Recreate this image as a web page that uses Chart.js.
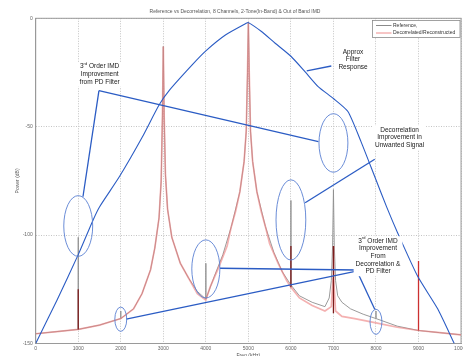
<!DOCTYPE html>
<html>
<head>
<meta charset="utf-8">
<script src="https://cdn.jsdelivr.net/npm/chart.js@4.4.1/dist/chart.umd.min.js"></script>
<style>
  html, body { margin: 0; padding: 0; background: #fff; overflow: hidden; width: 463px; height: 356px; }
  #wrap { width: 470px; height: 360px; position: relative; }
</style>
</head>
<body>
<div id="wrap"><canvas id="chart"></canvas></div>
<script>
// axis ticks
const xTicks = [0, 1000, 2000, 3000, 4000, 5000, 6000, 7000, 8000, 9000, 10000];
const yTicks = [-150, -100, -50, 0];

// Reference spectrum (gray)
const refFreq = [0, 500, 999, 1000, 1001, 1500, 1999, 2000, 2001, 2300, 2500, 2700, 2800, 2900, 2950, 2980, 3000, 3020, 3050, 3100, 3200, 3400, 3600, 3800, 3999, 4000, 4001, 4200, 4400, 4600, 4800, 4900, 4950, 4980, 5000, 5020, 5050, 5100, 5200, 5400, 5600, 5800, 5999, 6000, 6001, 6200, 6500, 6800, 6900, 6950, 6980, 7000, 7020, 7050, 7100, 7200, 7400, 7700, 7999, 8000, 8001, 8500, 9000, 9500, 10000];
const refPower = [-145.5, -144.5, -143.5, -101, -143.5, -141.5, -138.5, -135, -138.5, -134, -127, -116, -106, -92, -75, -45, -13, -45, -72, -88, -101, -113, -120, -126, -129.5, -113, -129.5, -119, -109, -96, -80, -66, -52, -25, -2, -25, -52, -66, -80, -96, -108, -117, -123, -84, -123, -128, -131, -133, -129, -121, -105, -79, -105, -121, -128, -131, -134, -136.5, -138.5, -135, -138.5, -142, -144, -145, -146];

// Decorrelated / reconstructed spectrum (pink)
const decFreq = [0, 500, 1000, 1500, 2000, 2300, 2500, 2700, 2800, 2900, 2950, 2980, 3000, 3020, 3050, 3100, 3200, 3400, 3600, 3800, 4000, 4100, 4300, 4500, 4600, 4700, 4800, 4900, 4950, 4980, 5000, 5020, 5050, 5100, 5200, 5300, 5400, 5500, 5700, 5900, 6000, 6200, 6500, 6800, 6950, 6990, 7000, 7010, 7050, 7200, 7500, 8000, 8500, 9000, 9500, 10000];
const decPower = [-145.5, -144.5, -143.5, -141.5, -138.5, -134, -127, -116, -106, -92, -75, -45, -13, -45, -72, -88, -101, -113, -120, -127, -130, -124, -115, -105, -96, -89, -80, -66, -52, -25, -2, -25, -52, -66, -80, -89, -96, -104, -113, -121, -124, -129, -132.5, -135, -133, -120, -105, -120, -135, -137.5, -138.5, -140.5, -142.5, -144, -145, -146];

// dark overlapping tone spikes
const darkSpikeFreq = [1000, 6000, 7000];
const darkSpikeTop = [-125, -105, -105];
const darkSpikeBase = [-143.5, -124, -136];
const redSpikeFreq = [9000];
const redSpikeTop = [-112];
const redSpikeBase = [-144];

// approx filter response (blue)
const filterFreq = [0, 500, 1000, 1350, 1500, 1970, 2500, 2900, 3150, 3700, 4000, 4460, 4950, 5000, 5300, 5630, 6000, 6330, 6640, 7000, 7340, 7650, 7970, 8250, 8510, 8980, 9450, 9840];
const filterPower = [-150, -130, -109, -93, -87, -73, -55, -40, -33, -21, -15, -7.7, -2.3, -2, -6, -11.5, -17.5, -24.6, -31.5, -37, -43, -57, -73, -87, -99, -119, -134, -150];

// annotation ellipses (center and half sizes in data units)
const ellipseFreq = [1000, 2000, 4000, 6000, 7000, 8000];
const ellipsePower = [-95.8, -138.8, -115.6, -93, -57.5, -140];
const ellipseHalfFreq = [340, 140, 330, 350, 340, 140];
const ellipseHalfPower = [14, 5.6, 13.4, 18.5, 13.5, 5.8];

// annotation notes
const noteText = [
  ["3rd Order IMD", "Improvement", "from PD Filter"],
  ["Approx", "Filter", "Response"],
  ["Decorrelation", "Improvement in", "Unwanted Signal"],
  ["3rd Order IMD", "Improvement", "From", "Decorrelation &", "PD Filter"]
];
const noteFreq = [1503, 7460, 8555, 8048];
const notePower = [-22.3, -15.5, -51.5, -102.6];

// connector lines
const linkFromFreq = [1487, 1487, 6950, 7971, 7541, 7541, 7541];
const linkFromPower = [-33.4, -33.4, -22, -65, -116.1, -116.6, -116.1];
const linkToFreq = [1111, 6646, 6372, 6335, 4332, 2127, 7971];
const linkToPower = [-82.3, -56.9, -24.2, -85.1, -115.3, -138.8, -134.2];

const legendLabels = ["Reference,", "Decorrelated/Reconstructed"];

const pts = (xs, ys) => xs.map((x, i) => ({ x: x, y: ys[i] }));
const spikes = (xs, tops, bases) => {
  const out = [];
  xs.forEach((x, i) => {
    out.push({ x: x, y: bases[i] }, { x: x, y: tops[i] }, { x: x, y: null });
  });
  return out;
};

const FONT = "'Liberation Sans', Arial, sans-serif";
const BLUE = "#2b5cc4";
const PINK = "rgba(236,125,125,0.6)";

function drawNoteLine(ctx, line, cx, y) {
  if (line.startsWith("3rd")) {
    const rest = " " + line.slice(4);
    ctx.font = "6.5px " + FONT;
    const w3 = ctx.measureText("3").width;
    const wr = ctx.measureText(rest).width;
    ctx.font = "4px " + FONT;
    const wsup = ctx.measureText("rd").width;
    let x = cx - (w3 + wsup + wr) / 2;
    ctx.textAlign = "left";
    ctx.font = "6.5px " + FONT;
    ctx.fillText("3", x, y);
    x += w3;
    ctx.font = "4px " + FONT;
    ctx.fillText("rd", x, y - 2.5);
    x += wsup;
    ctx.font = "6.5px " + FONT;
    ctx.fillText(rest, x, y);
  } else {
    ctx.font = "6.5px " + FONT;
    ctx.textAlign = "center";
    ctx.fillText(line, cx, y);
  }
}

const annotations = {
  id: "annotations",
  beforeDatasetsDraw(chart) {
    const { ctx, chartArea: a } = chart;
    ctx.save();
    ctx.strokeStyle = "#9a9a9a";
    ctx.lineWidth = 1;
    ctx.strokeRect(a.left, a.top, a.right - a.left, a.bottom - a.top);
    ctx.restore();
  },
  afterDatasetsDraw(chart) {
    const { ctx, scales: { x, y } } = chart;
    ctx.save();
    // connectors
    ctx.strokeStyle = BLUE;
    ctx.lineWidth = 1.3;
    linkFromFreq.forEach((f, i) => {
      ctx.beginPath();
      ctx.moveTo(x.getPixelForValue(f), y.getPixelForValue(linkFromPower[i]));
      ctx.lineTo(x.getPixelForValue(linkToFreq[i]), y.getPixelForValue(linkToPower[i]));
      ctx.stroke();
    });
    // ellipses
    ctx.strokeStyle = "#5a80d2";
    ctx.lineWidth = 0.9;
    ellipseFreq.forEach((f, i) => {
      const cx = x.getPixelForValue(f);
      const cy = y.getPixelForValue(ellipsePower[i]);
      const rx = Math.abs(x.getPixelForValue(f + ellipseHalfFreq[i]) - cx);
      const ry = Math.abs(y.getPixelForValue(ellipsePower[i] + ellipseHalfPower[i]) - cy);
      ctx.beginPath();
      ctx.ellipse(cx, cy, rx, ry, 0, 0, Math.PI * 2);
      ctx.stroke();
    });
    // notes
    ctx.textBaseline = "middle";
    noteText.forEach((lines, i) => {
      const cx = x.getPixelForValue(noteFreq[i]);
      const y0 = y.getPixelForValue(notePower[i]);
      ctx.font = "6.5px " + FONT;
      const w = Math.max(...lines.map(l => ctx.measureText(l).width)) + 4;
      ctx.fillStyle = "#fff";
      ctx.fillRect(cx - w / 2, y0 - 4.5, w, lines.length * 7.7 + 1.5);
      ctx.fillStyle = "#1a1a1a";
      lines.forEach((l, k) => drawNoteLine(ctx, l, cx, y0 + k * 7.7));
    });
    // legend box
    const lx = 372.5, ly = 20.5, lw = 87.5, lh = 17;
    ctx.fillStyle = "#fff";
    ctx.fillRect(lx, ly, lw, lh);
    ctx.strokeStyle = "#8a8a8a";
    ctx.lineWidth = 0.8;
    ctx.strokeRect(lx, ly, lw, lh);
    const colors = ["#8a8a8a", "#ee8c8c"];
    legendLabels.forEach((t, k) => {
      const yy = ly + 5 + k * 7.5;
      ctx.strokeStyle = colors[k];
      ctx.lineWidth = 1;
      ctx.beginPath();
      ctx.moveTo(lx + 3.5, yy);
      ctx.lineTo(lx + 19, yy);
      ctx.stroke();
      ctx.fillStyle = "#333";
      ctx.font = "5px " + FONT;
      ctx.textAlign = "left";
      ctx.fillText(t, lx + 20.5, yy);
    });
    ctx.restore();
  }
};

const ctx = document.getElementById("chart").getContext("2d");
new Chart(ctx, {
  type: "line",
  data: {
    datasets: [
      {
        label: legendLabels[0],
        data: pts(refFreq, refPower),
        borderColor: "#8f8f8f",
        borderWidth: 0.9,
        pointRadius: 0,
        tension: 0,
        order: 4
      },
      {
        label: legendLabels[1],
        data: pts(decFreq, decPower),
        borderColor: PINK,
        borderWidth: 1.7,
        pointRadius: 0,
        tension: 0,
        order: 3
      },
      {
        label: "spikes",
        data: spikes(darkSpikeFreq, darkSpikeTop, darkSpikeBase),
        borderColor: "#7d1c1c",
        borderWidth: 1.3,
        pointRadius: 0,
        spanGaps: false,
        order: 2
      },
      {
        label: "spikes2",
        data: spikes(redSpikeFreq, redSpikeTop, redSpikeBase),
        borderColor: "#cc3030",
        borderWidth: 1.3,
        pointRadius: 0,
        spanGaps: false,
        order: 2
      },
      {
        label: "Approx Filter Response",
        data: pts(filterFreq, filterPower),
        borderColor: BLUE,
        borderWidth: 1.1,
        pointRadius: 0,
        tension: 0.2,
        order: 1
      }
    ]
  },
  options: {
    responsive: true,
    maintainAspectRatio: false,
    animation: false,
    layout: { padding: 0 },
    plugins: {
      legend: { display: false },
      tooltip: { enabled: false },
      title: {
        display: true,
        text: "Reference vs Decorrelation, 8 Channels, 2-Tone(In-Band) & Out of Band IMD",
        color: "#555",
        font: { family: FONT, size: 5, weight: "normal" },
        padding: { top: 8.5, bottom: 3.8 }
      }
    },
    scales: {
      x: {
        type: "linear",
        min: 0,
        max: 10000,
        afterBuildTicks: s => { s.ticks = xTicks.map(v => ({ value: v })); },
        afterFit: s => { s.height = 16.5; },
        ticks: { color: "#666", font: { family: FONT, size: 5 }, padding: 2, maxRotation: 0, autoSkip: false, callback: v => String(v) },
        grid: { color: "#c4c4c4", lineWidth: 1, drawTicks: false },
        border: { color: "#9a9a9a", dash: [1, 1.5] },
        title: { display: true, text: "Freq (kHz)", color: "#555", font: { family: FONT, size: 5 }, padding: { top: 0, bottom: 1 } }
      },
      y: {
        min: -150,
        max: 0,
        afterBuildTicks: s => { s.ticks = yTicks.map(v => ({ value: v })); },
        afterFit: s => { s.width = 35.7; },
        ticks: { color: "#666", font: { family: FONT, size: 5 }, padding: 3, callback: v => String(v) },
        grid: { color: "#c4c4c4", lineWidth: 1, drawTicks: false },
        border: { color: "#9a9a9a", dash: [1, 1.5] },
        title: { display: true, text: "Power (dB)", color: "#555", font: { family: FONT, size: 5 }, padding: { top: 15, bottom: 0 } }
      }
    }
  },
  plugins: [annotations]
});
</script>
</body>
</html>
